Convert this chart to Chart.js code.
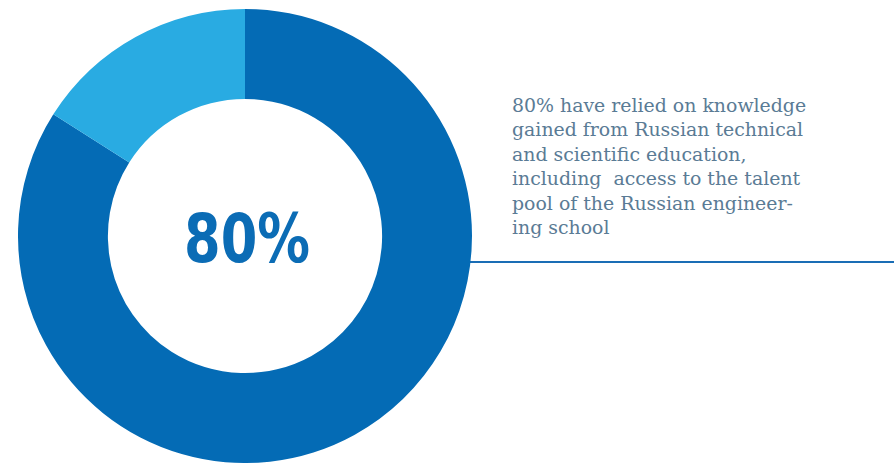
<!DOCTYPE html>
<html>
<head>
<meta charset="utf-8">
<script src="https://cdn.jsdelivr.net/npm/chart.js@4/dist/chart.umd.min.js"></script>
<style>
  html, body { margin: 0; padding: 0; background: #fff; overflow: hidden; }
  #wrap { position: relative; width: 894px; height: 463px; }
  #donut { position: absolute; left: 18px; top: 9px; }
  #rule { position: absolute; left: 470px; top: 261px; width: 424px; height: 2px; background: #1a6db5; }
  #note {
    position: absolute; left: 512px; top: 93px; width: 380px;
    font-family: "DejaVu Serif", serif; font-size: 18.9px; line-height: 24.4px;
    color: #5a7b95;
  }
</style>
</head>
<body>
<div id="wrap">
  <div id="rule"></div>
  <canvas id="donut" width="454" height="454"></canvas>
  <div id="note">80% have relied on knowledge<br>gained from Russian technical<br>and scientific education,<br>including&nbsp; access to the talent<br>pool of the Russian engineer-<br>ing school</div>
</div>
<script>
// slices (clockwise from 12 o'clock)
var labels = ["Relied on Russian education", "Other"];
var values = [84, 16];
var colors = ["#046bb5", "#29abe2"];
var centerLabel = "80%";

// 中心文字
var centerText = {
    id: "centerText",
    afterDraw: function (chart) {
        var ctx = chart.ctx;
        var meta = chart.getDatasetMeta(0).data[0];
        ctx.save();
        ctx.translate(meta.x + 2, meta.y + 8);
        ctx.scale(0.86, 1);
        ctx.fillStyle = "#0b6cb5";
        ctx.font = "bold 68px 'DejaVu Sans Condensed', 'DejaVu Sans', sans-serif";
        ctx.textAlign = "center";
        ctx.textBaseline = "middle";
        ctx.fillText(centerLabel, 0, 0);
        ctx.restore();
    }
};

var donut = new Chart(document.getElementById("donut"), {
    type: "doughnut",
    data: {
        labels: labels,
        datasets: [{
            data: values,
            backgroundColor: colors,
            borderWidth: 0
        }]
    },
    options: {
        responsive: false,
        animation: false,
        cutout: "60.4%",
        layout: { padding: 0 },
        plugins: {
            legend: { display: false },
            tooltip: { enabled: false }
        }
    },
    plugins: [centerText]
});
</script>
</body>
</html>
